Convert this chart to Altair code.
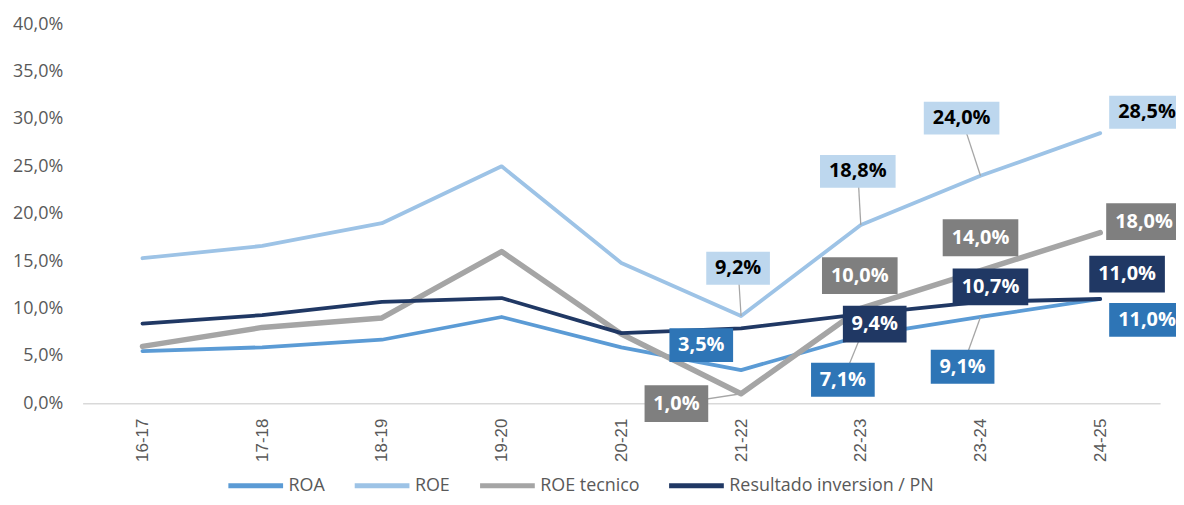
import altair as alt
import pandas as pd

# ---------------- data ----------------
categories = ["16-17", "17-18", "18-19", "19-20", "20-21", "21-22", "22-23", "23-24", "24-25"]
series_names = ["ROA", "ROE", "ROE tecnico", "Resultado inversion / PN"]
roa = [5.5, 5.9, 6.7, 9.1, 5.9, 3.5, 7.1, 9.1, 11.0]
roe = [15.3, 16.6, 19.0, 25.0, 14.8, 9.2, 18.8, 24.0, 28.5]
roe_tecnico = [6.0, 8.0, 9.0, 16.0, 7.3, 1.0, 10.0, 14.0, 18.0]
resultado_pn = [8.4, 9.3, 10.7, 11.1, 7.4, 7.9, 9.4, 10.7, 11.0]
y_ticks = [0, 5, 10, 15, 20, 25, 30, 35, 40]

# labelled points: (series, category index)
labelled = [
    ("ROE", 5), ("ROE", 6), ("ROE", 7), ("ROE", 8),
    ("ROE tecnico", 5), ("ROE tecnico", 6), ("ROE tecnico", 7), ("ROE tecnico", 8),
    ("Resultado inversion / PN", 6), ("Resultado inversion / PN", 7), ("Resultado inversion / PN", 8),
    ("ROA", 5), ("ROA", 6), ("ROA", 7), ("ROA", 8),
]

# ---------------- styling / layout ----------------
W, H = 1083, 381
colors = ["#5B9BD5", "#9DC3E6", "#A5A5A5", "#203864"]
line_w = {"ROA": 3.8, "ROE": 3.8, "ROE tecnico": 5.5, "Resultado inversion / PN": 3.8}
box_fill = {"ROA": "#2E75B6", "ROE": "#BDD7EE", "ROE tecnico": "#7F7F7F", "Resultado inversion / PN": "#203864"}
txt_fill = {"ROA": "#FFFFFF", "ROE": "#000000", "ROE tecnico": "#FFFFFF", "Resultado inversion / PN": "#FFFFFF"}
box_h = {"ROA": 34, "ROE": 33, "ROE tecnico": 37, "Resultado inversion / PN": 37}
# pixel offsets of label centres from their points (dx, dy, leader line)
label_offsets = [
    (-3, -48, True), (-3, -54, True), (-19, -58, True), (47, -21, False),
    (-65, 10, True), (-1, -33, False), (0, -33, False), (44, -11, False),
    (14, 10, False), (10, -15, False), (27, -25, False),
    (-40, -25, False), (-18, 44, True), (-18, 50, True), (47, 21, False),
]

values = dict(zip(series_names, [roa, roe, roe_tecnico, resultado_pn]))
px_x = W / 9.0
px_y = H / 40.0

rows = []
for s in series_names:
    for i, v in enumerate(values[s]):
        rows.append({"series": s, "idx": i, "value": v, "sw": line_w[s]})
lines_df = pd.DataFrame(rows)

lab_rows = []
for (s, i), (dx, dy, leader) in zip(labelled, label_offsets):
    v = values[s][i]
    txt = f"{v:.1f}".replace(".", ",") + "%"
    bw = 64 if len(txt) <= 4 else 76
    bh = box_h[s]
    lx = i + dx / px_x
    ly = v - dy / px_y
    lab_rows.append({
        "series": s, "idx": i, "value": v, "label": txt,
        "lx": lx, "ly": ly,
        "bx1": lx - bw / 2 / px_x, "bx2": lx + bw / 2 / px_x,
        "by1": ly - bh / 2 / px_y, "by2": ly + bh / 2 / px_y,
        "fill": box_fill[s], "tcolor": txt_fill[s], "leader": leader,
    })
lab_df = pd.DataFrame(lab_rows)
lead_df = lab_df[lab_df["leader"]]

cat_expr = "[" + ",".join(f"'{c}'" for c in categories) + "][datum.value]"

x_enc = alt.X(
    "idx:Q",
    scale=alt.Scale(domain=[-0.5, 8.5], nice=False, zero=False),
    axis=alt.Axis(
        values=list(range(len(categories))), labelExpr=cat_expr, title=None,
        grid=False, ticks=False, tickSize=0, domain=True, domainColor="#D9D9D9",
        domainWidth=1.5, labelAngle=270, labelFont="Liberation Sans", labelFontSize=17,
        labelColor="#595959", labelPadding=15,
    ),
)
y_enc = alt.Y(
    "value:Q",
    scale=alt.Scale(domain=[0, 40], nice=False),
    axis=alt.Axis(
        values=y_ticks, labelExpr="replace(format(datum.value, '.1f'), '.', ',') + '%'",
        title=None, grid=False, ticks=False, domain=False, labelFont="Open Sans",
        labelFontSize=18, labelColor="#595959", labelPadding=20,
    ),
)

lines = alt.Chart(lines_df).mark_line(strokeJoin="round", strokeCap="round").encode(
    x=x_enc,
    y=y_enc,
    color=alt.Color(
        "series:N",
        scale=alt.Scale(domain=series_names, range=colors),
        sort=series_names,
        legend=alt.Legend(
            title=None, orient="none", legendX=144, legendY=434, direction="horizontal",
            symbolType="stroke", symbolSize=3025, symbolStrokeWidth=5,
            labelFont="Open Sans", labelFontSize=18, labelColor="#595959",
            labelOffset=3, columnPadding=19, padding=0, labelLimit=0,
        ),
    ),
    strokeWidth=alt.StrokeWidth("sw:Q", scale=None),
    order="idx:Q",
)

leaders = alt.Chart(lead_df).mark_rule(color="#A6A6A6", strokeWidth=1.3).encode(
    x="idx:Q", y="value:Q", x2="lx:Q", y2="ly:Q"
)

boxes = alt.Chart(lab_df).mark_rect().encode(
    x="bx1:Q", x2="bx2:Q", y="by1:Q", y2="by2:Q",
    fill=alt.Fill("fill:N", scale=None),
)

texts = alt.Chart(lab_df).mark_text(
    font="Open Sans", fontSize=20, fontWeight="bold", align="center", baseline="middle"
).encode(
    x="lx:Q", y="ly:Q", text="label:N",
    fill=alt.Fill("tcolor:N", scale=None),
)

chart = (
    alt.layer(lines, leaders, boxes, texts)
    .properties(
        width=W, height=H,
        autosize=alt.AutoSizeParams(type="none"),
        padding={"left": 75, "top": 15, "right": 16, "bottom": 93},
        background="white",
    )
    .configure_view(stroke=None)
)

chart.save("out.html", embed_options={"renderer": "svg", "actions": False})
